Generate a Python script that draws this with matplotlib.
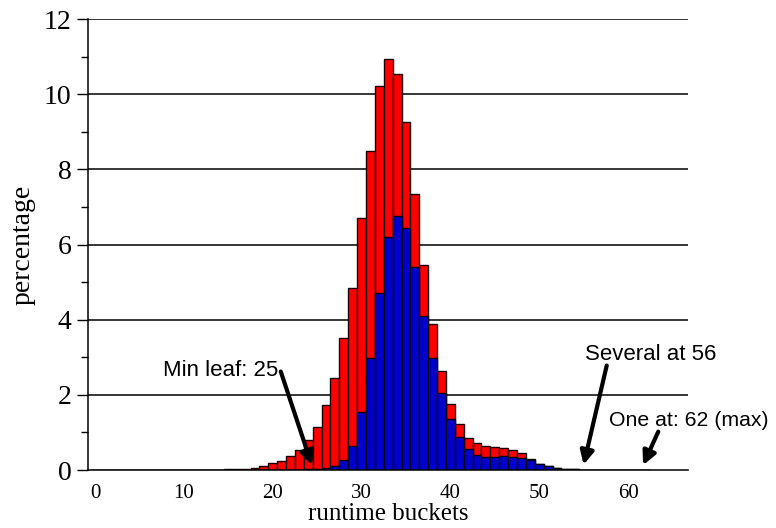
import matplotlib
matplotlib.use("Agg")
import matplotlib.pyplot as plt
import numpy as np

buckets = list(range(0, 63))
total_pct = [0, 0, 0, 0, 0, 0, 0, 0,
             0.003, 0.004, 0.005, 0.006, 0.008, 0.01, 0.012, 0.015,
             0.02, 0.03, 0.06, 0.11, 0.19, 0.24, 0.37, 0.53,
             0.81, 1.15, 1.73, 2.46, 3.52, 4.84, 6.71, 8.49,
             10.23, 10.94, 10.54, 9.25, 7.34, 5.46, 3.88, 2.64,
             1.76, 1.23, 0.86, 0.72, 0.65, 0.62, 0.59, 0.52,
             0.44, 0.30, 0.17, 0.11, 0.06, 0.03, 0.015, 0.008,
             0.005, 0, 0, 0, 0, 0, 0.003]
leaf_pct = [0] * 24 + [0.02, 0.03, 0.06, 0.11, 0.27, 0.64, 1.54, 2.99,
             4.72, 6.20, 6.75, 6.45, 5.39, 4.11, 2.97, 2.04,
             1.35, 0.87, 0.55, 0.40, 0.34, 0.34, 0.37, 0.35,
             0.33, 0.26, 0.16, 0.11, 0.06, 0.03, 0.015, 0.008,
             0.005, 0, 0, 0, 0, 0, 0.003]

xticks = [0, 10, 20, 30, 40, 50, 60]
yticks = [0, 2, 4, 6, 8, 10, 12]

fig = plt.figure(figsize=(7.76, 5.28), dpi=100)
ax = fig.add_axes([88/776, 1-470/528, 600/776, (470-19)/528])

for y in yticks[1:]:
    ax.axhline(y, color='black', lw=1.1, zorder=0)

ax.bar(buckets, total_pct, width=1.0, color='#ff0000', edgecolor='#1a0000', linewidth=1.0, zorder=2)
ax.bar(buckets, leaf_pct, width=1.0, color='#0000cc', edgecolor='#000010', linewidth=1.0, zorder=3)

ax.set_xlim(-0.8, 66.75)
ax.set_ylim(0, 12)
ax.set_xticks(xticks)
ax.set_xticklabels([str(t) for t in xticks], fontfamily='Liberation Serif', fontsize=15)
ax.set_yticks(yticks)
ax.set_yticklabels([str(t) for t in yticks], fontfamily='Liberation Serif', fontsize=20)
ax.set_yticks([1, 3, 5, 7, 9, 11], minor=True)
ax.tick_params(axis='x', length=0, pad=10)
ax.tick_params(axis='y', which='major', length=8, width=1, direction='out', pad=4)
ax.tick_params(axis='y', which='minor', length=5, width=1, direction='out')
for s in ['top', 'right']:
    ax.spines[s].set_visible(False)
ax.spines['left'].set_linewidth(1.1)
ax.spines['bottom'].set_linewidth(1.1)
ax.spines['left'].set_zorder(5)
ax.spines['bottom'].set_zorder(5)

ax.set_xlabel('runtime buckets', fontfamily='Liberation Serif', fontsize=18, labelpad=0)
ax.set_ylabel('percentage', fontfamily='Liberation Serif', fontsize=20, labelpad=6)

aprops = dict(arrowstyle='-|>', lw=3, color='black', mutation_scale=20, shrinkA=0, shrinkB=0)
ax.annotate('', xy=(24.4, 0.13), xytext=(20.9, 2.62), arrowprops=aprops, zorder=6)
ax.annotate('', xy=(55.0, 0.14), xytext=(57.6, 2.78), arrowprops=aprops, zorder=6, annotation_clip=False)
ax.annotate('', xy=(61.7, 0.13), xytext=(63.4, 1.02), arrowprops=aprops, zorder=6, annotation_clip=False)

tfont = dict(fontfamily='Liberation Sans', fontsize=16)
ax.text(20.6, 2.66, 'Min leaf: 25', ha='right', va='center', **tfont)
ax.text(62.5, 3.07, 'Several at 56', ha='center', va='center', clip_on=False, **tfont)
ax.text(57.9, 1.33, 'One at: 62 (max)', ha='left', va='center', clip_on=False,
        fontfamily='Liberation Sans', fontsize=15.3)

fig.savefig('out.png', dpi=100)
